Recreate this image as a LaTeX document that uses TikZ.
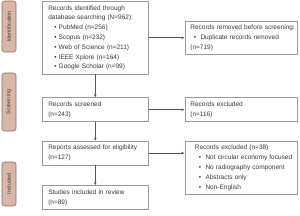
\documentclass[tikz,border=0pt]{standalone}
\usepackage{fontspec}
\setmainfont{Liberation Sans}
\usetikzlibrary{positioning, arrows.meta}
\definecolor{tabfill}{HTML}{D8B6AA}
\definecolor{tabdraw}{HTML}{8E6E62}
\definecolor{boxdraw}{HTML}{9A9A9A}
\definecolor{linegray}{HTML}{555555}
\tikzset{
    base/.style={draw=boxdraw, line width=0.6pt, align=left, inner ysep=4pt, font=\fontsize{6.5}{9.8}\selectfont, text=black!78},
    box/.style={base, rectangle, inner xsep=6pt, text width=94pt},
    sidebox/.style={base, rectangle, inner xsep=4pt, text width=104pt},
    tab/.style={draw=tabdraw, fill=tabfill, rounded corners=2.5pt, rotate=90, minimum height=14pt, inner sep=0pt, line width=0.6pt, font=\fontsize{5.5}{6}\selectfont, text=black!75},
    arrow/.style={-{Latex[length=3pt, width=2.6pt]}, draw=linegray, line width=0.5pt}
}
\newcommand{\bul}[1][6pt]{\hspace*{#1}\textbullet\ }

\begin{document}
\begin{tikzpicture}[x=1pt, y=1pt]
    \useasboundingbox (0,0) rectangle (300,216);

    % phase tabs
    \node [tab, minimum width=51pt] (tabid) at (9,189.5) {Identification};
    \node [tab, minimum width=58pt] (tabscr) at (9,114) {Screening};
    \node [tab, minimum width=44pt] (tabinc) at (9,32) {Included};

    % main column
    \node [box, anchor=north west] (ident) at (42,215) {Records identified through\\database searching (N=962):\\\bul PubMed (n=256)\\\bul Scopus (n=232)\\\bul Web of Science (n=211)\\\bul IEEE Xplore (n=164)\\\bul Google Scholar (n=99)};
    \node [box, below=23pt of ident] (screened) {Records screened\\(n=243)};
    \node [box, below=19pt of screened] (reports) {Reports assessed for eligibility\\(n=127)};
    \node [box, below=20pt of reports] (included) {Studies included in review\\(n=89)};

    % exclusions
    \node [sidebox, right=36pt of ident] (removed) {\mbox{\hspace*{1.5pt}Records removed before screening:}\\\bul[5pt] Duplicate records removed\\\hspace*{1.5pt}(n=719)};
    \node [sidebox, right=36pt of screened] (excluded) {\hspace*{1.5pt}Records excluded\\\hspace*{1.5pt}(n=116)};
    \node [sidebox, right=36pt of reports.north east, anchor=north west] (excl38) {\hspace*{6pt}Records excluded (n=38)\\\bul[10pt] Not circular economy focused\\\bul[10pt] No radiography component\\\bul[10pt] Abstracts only\\\bul[10pt] Non-English};

    % Connections
    \draw [arrow] (ident) -- (screened);
    \draw [arrow] (screened) -- (reports);
    \draw [arrow] (reports) -- (included);
    \draw [arrow] (ident.east) -- (ident.east -| removed.west);
    \draw [arrow] (screened) -- (excluded);
    \draw [arrow] (reports.east) -- (reports.east -| excl38.west);
\end{tikzpicture}
\end{document}
